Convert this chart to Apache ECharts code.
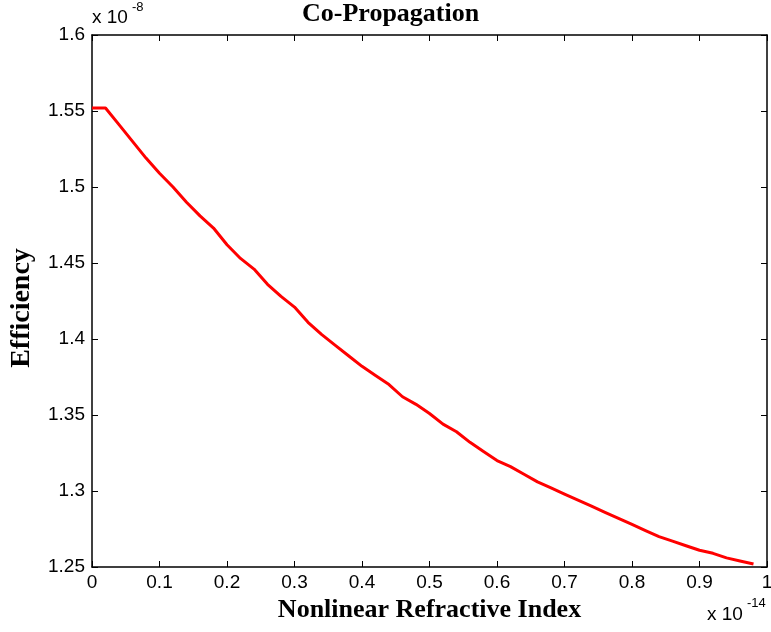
<!DOCTYPE html>
<html>
<head>
<meta charset="utf-8">
<script src="https://cdn.jsdelivr.net/npm/echarts@6/dist/echarts.min.js"></script>
<style>
  html, body { margin: 0; padding: 0; background: #fff; }
  #chart { width: 771px; height: 632px; }
</style>
</head>
<body>
<div id="chart"></div>
<script>
// x in units of 1e-14, y in units of 1e-8
const xValues = [0, 0.02, 0.04, 0.06, 0.08, 0.1, 0.12, 0.14, 0.16, 0.18,
  0.2, 0.22, 0.24, 0.26, 0.28, 0.3, 0.32, 0.34, 0.36, 0.38,
  0.4, 0.42, 0.44, 0.46, 0.48, 0.5, 0.52, 0.54, 0.56, 0.58,
  0.6, 0.62, 0.64, 0.66, 0.68, 0.7, 0.72, 0.74, 0.76, 0.78,
  0.8, 0.82, 0.84, 0.86, 0.88, 0.9, 0.92, 0.94, 0.96, 0.98];
const efficiency = [1.552, 1.552, 1.541, 1.530, 1.519, 1.509, 1.500, 1.490, 1.481, 1.473,
  1.462, 1.453, 1.446, 1.436, 1.428, 1.421, 1.411, 1.403, 1.396, 1.389,
  1.382, 1.376, 1.370, 1.362, 1.357, 1.351, 1.344, 1.339, 1.332, 1.326,
  1.320, 1.316, 1.311, 1.306, 1.302, 1.298, 1.294, 1.290, 1.286, 1.282,
  1.278, 1.274, 1.270, 1.267, 1.264, 1.261, 1.259, 1.256, 1.254, 1.252];

const titleText = "Co-Propagation";
const xName = "Nonlinear Refractive Index";
const yName = "Efficiency";

const chart = echarts.init(document.getElementById("chart"));

const tickFont = { color: "#000", fontSize: 19, fontFamily: "Liberation Sans, Arial, sans-serif" };
const nameFont = { color: "#000", fontSize: 26, fontWeight: "bold", fontFamily: "Liberation Serif, Times New Roman, serif" };
const axisLine = { show: true, onZero: false, lineStyle: { color: "#000", width: 1.5 } };
const tick = { show: true, inside: true, length: 6, lineStyle: { color: "#000", width: 1 } };

const option = {
  animation: false,
  backgroundColor: "#fff",
  grid: { left: 92, right: 4, top: 35, bottom: 65, outerBoundsMode: "none" },
  title: {
    text: titleText,
    left: 297,
    top: -4,
    textStyle: nameFont
  },
  graphic: [
    { type: "text", left: 92, top: 8, style: { text: "x 10", font: "19px Liberation Sans", fill: "#000" } },
    { type: "text", left: 132, top: 1, style: { text: "-8", font: "13px Liberation Sans", fill: "#000" } },
    { type: "text", left: 707, top: 605, style: { text: "x 10", font: "19px Liberation Sans", fill: "#000" } },
    { type: "text", left: 747, top: 597, style: { text: "-14", font: "13px Liberation Sans", fill: "#000" } }
  ],
  xAxis: [
    {
      type: "value",
      min: 0, max: 1, interval: 0.1,
      position: "bottom",
      name: xName,
      nameLocation: "middle",
      nameGap: 27,
      nameTextStyle: nameFont,
      axisLine: axisLine,
      axisTick: tick,
      splitLine: { show: false },
      axisLabel: { ...tickFont, margin: 6, formatter: v => String(+v.toFixed(1)) }
    },
    {
      type: "value",
      min: 0, max: 1, interval: 0.1,
      position: "top",
      axisLine: axisLine,
      axisTick: tick,
      splitLine: { show: false },
      axisLabel: { show: false }
    }
  ],
  yAxis: [
    {
      type: "value",
      min: 1.25, max: 1.6, interval: 0.05,
      position: "left",
      name: yName,
      nameLocation: "middle",
      nameGap: 56,
      nameTextStyle: { ...nameFont, fontSize: 28, padding: [0, 14, 0, 0] },
      axisLine: axisLine,
      axisTick: tick,
      splitLine: { show: false },
      axisLabel: { ...tickFont, margin: 7, formatter: v => String(+v.toFixed(2)) }
    },
    {
      type: "value",
      min: 1.25, max: 1.6, interval: 0.05,
      position: "right",
      axisLine: axisLine,
      axisTick: tick,
      splitLine: { show: false },
      axisLabel: { show: false }
    }
  ],
  series: [
    {
      type: "line",
      xAxisIndex: 0,
      yAxisIndex: 0,
      data: xValues.map((x, i) => [x, efficiency[i]]),
      showSymbol: false,
      lineStyle: { color: "#ff0000", width: 3 },
      itemStyle: { color: "#ff0000" }
    }
  ]
};

chart.setOption(option);
</script>
</body>
</html>
